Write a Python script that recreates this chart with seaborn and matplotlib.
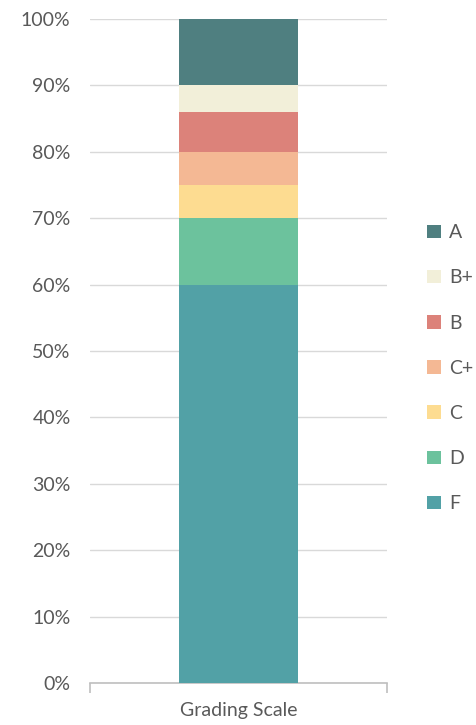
import pandas as pd
import matplotlib.pyplot as plt
import seaborn as sns

# Grade bands (share of scale, %), bottom to top
grades = ["F", "D", "C", "C+", "B", "B+", "A"]
shares = [60, 10, 5, 5, 6, 4, 10]
colors = ["#52a1a6", "#6cc29d", "#fddc91", "#f4b894", "#dc827a", "#f2efd9", "#4f7f80"]
category = "Grading Scale"

sns.set_style("white")
plt.rcParams["font.family"] = ["Lato", "DejaVu Sans"]

df = pd.DataFrame({"grade": grades, "share": shares, "color": colors})
df["top"] = df["share"].cumsum()
df["cat"] = category

fig = plt.figure(figsize=(4.76, 7.25), dpi=100)
ax = fig.add_axes([90 / 476, 1 - 683 / 725, 297 / 476, 664 / 725])

# draw cumulative bars from tallest to shortest so they stack visually
for _, row in df.iloc[::-1].iterrows():
    sns.barplot(data=pd.DataFrame([row]), x="cat", y="top", color=row["color"],
                width=0.404, saturation=1, label=row["grade"], ax=ax, zorder=3,
                linewidth=0, edgecolor="none")

ax.set_ylim(0, 100)
ax.set_xlim(-0.5, 0.5)
ax.set_yticks(range(0, 101, 10))
ax.set_yticklabels([f"{v}%" for v in range(0, 101, 10)])
ax.yaxis.grid(True, color="#d9d9d9", linewidth=1, zorder=0)
ax.set_axisbelow(True)

for s in ["top", "right", "left"]:
    ax.spines[s].set_visible(False)
ax.spines["bottom"].set_color("#bfbfbf")
ax.spines["bottom"].set_linewidth(1.2)

ax.set_xlabel("")
ax.set_ylabel("")
ax.tick_params(axis="y", length=0, labelsize=14, labelcolor="#595959", pad=14)
ax.tick_params(axis="x", which="major", length=0, labelsize=14, labelcolor="#595959", pad=14)
ax.set_xticks([-0.5, 0.5], minor=True)
ax.tick_params(axis="x", which="minor", bottom=True, length=7, width=1.2,
               color="#bfbfbf", direction="out")

leg = ax.legend(loc="center left", bbox_to_anchor=(1.11, 0.474), frameon=False,
                fontsize=14, labelcolor="#595959", handlelength=0.7, handleheight=0.7,
                handletextpad=0.4, labelspacing=1.45, borderaxespad=0)

fig.savefig("out.png", dpi=100)
